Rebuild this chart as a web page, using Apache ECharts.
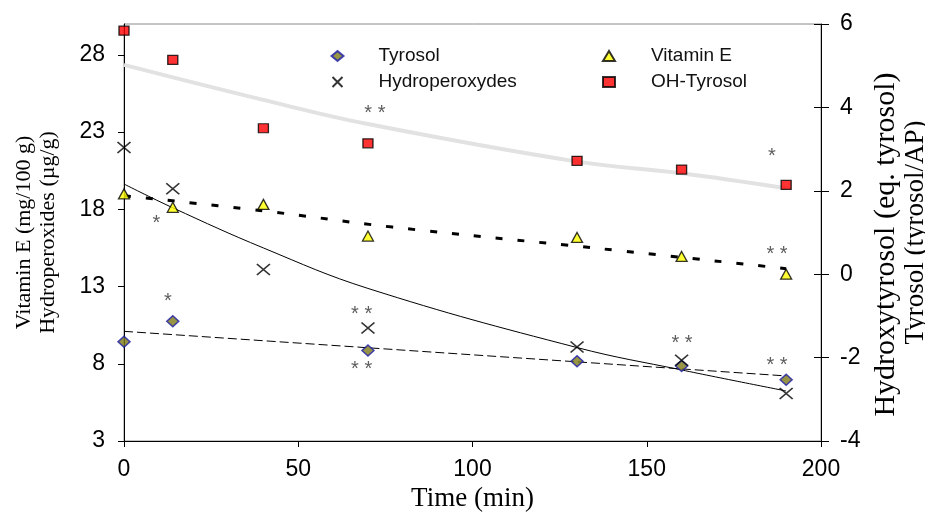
<!DOCTYPE html>
<html>
<head>
<meta charset="utf-8">
<script src="https://cdn.jsdelivr.net/npm/echarts@6/dist/echarts.min.js"></script>
<style>
  html, body { margin: 0; padding: 0; background: #fff; }
  #chart { width: 925px; height: 512px; }
</style>
</head>
<body>
<div id="chart"></div>
<script>
// sampling times (min)
var times = [0, 14, 40, 70, 130, 160, 190];
var tyrosolTimes = [0, 14, 70, 130, 160, 190];

// measured points
var tyrosol = [-1.62, -1.13, -1.83, -2.09, -2.20, -2.53];      // right axis
var vitaminE = [19.0, 18.13, 18.32, 16.27, 16.18, 14.95, 13.8];  // left axis
var hydroperox = [22.0, 19.33, 14.11, 10.32, 9.09, 8.23, 6.07];  // left axis
var ohTyrosol = [5.84, 5.14, 3.50, 3.14, 2.72, 2.51, 2.14];      // right axis

// trend lines
var ohFitT = [0, 40, 70, 130, 160, 190];
var ohFit = [5.02, 4.18, 3.60, 2.70, 2.42, 2.06];
var hpFitT = [0, 14, 40, 70, 130, 160, 190];
var hpFit = [19.64, 18.1, 15.5, 12.88, 9.05, 7.6, 6.24];
var veFitT = [0, 40, 77, 136, 190];
var veFit = [18.88, 17.9, 16.85, 15.47, 14.16];
var tyFitT = [0, 190];
var tyFit = [-1.37, -2.44];

// significance marks (left axis units)
var starT = [72, 185.9, 9.3, 12.6, 68.2, 68.2, 187.4, 160.1, 187.4];
var starV = [24.43, 21.63, 17.30, 12.23, 11.36, 7.80, 15.25, 9.53, 8.06];
var starTxt = ['* *', '*', '*', '*', '* *', '* *', '* *', '* *', '* *'];

var leftTicks = [3, 8, 13, 18, 23, 28];

function zip(xs, ys) {
  var out = [];
  for (var i = 0; i < xs.length; i++) {
    out.push([xs[i], ys[i]]);
  }
  return out;
}

var starData = [];
for (var i = 0; i < starT.length; i++) {
  starData.push({ value: [starT[i], starV[i]], name: starTxt[i] });
}

var sans = '"Liberation Sans", Arial, sans-serif';
var serif = '"Liberation Serif", "Times New Roman", serif';
var crossIcon = 'path://M0,0L10,10M10,0L0,10';

var myChart = echarts.init(document.getElementById('chart'), null, { renderer: 'canvas' });

var option = {
  animation: false,
  backgroundColor: '#fff',
  grid: {
    left: 124, right: 104, top: 24, bottom: 71,
    outerBoundsMode: 'none',
    show: true, borderColor: '#8a8a8a', borderWidth: 1
  },
  legend: [
    {
      data: ['Tyrosol', 'Hydroperoxydes'],
      orient: 'vertical',
      left: 330, top: 43, padding: 0,
      itemWidth: 12, itemHeight: 10, itemGap: 0,
      selectedMode: false,
      textStyle: { fontFamily: sans, fontSize: 19, color: '#111', lineHeight: 26, padding: [0, 0, 0, 30] }
    },
    {
      data: ['Vitamin E', 'OH-Tyrosol'],
      orient: 'vertical',
      left: 602, top: 43, padding: 0,
      itemWidth: 12, itemHeight: 10, itemGap: 0,
      selectedMode: false,
      textStyle: { fontFamily: sans, fontSize: 19, color: '#111', lineHeight: 26, padding: [0, 0, 0, 31] }
    }
  ],
  xAxis: {
    type: 'value',
    min: 0, max: 200, interval: 50,
    name: 'Time (min)',
    nameLocation: 'middle',
    nameGap: 42,
    nameTextStyle: { fontFamily: serif, fontSize: 27, color: '#000' },
    axisLine: { onZero: false, lineStyle: { color: '#000', width: 1 } },
    axisTick: { length: 6, lineStyle: { color: '#000' } },
    axisLabel: { fontFamily: sans, fontSize: 23, color: '#000', margin: 17 },
    splitLine: { show: false }
  },
  yAxis: [
    {
      type: 'value',
      position: 'left',
      min: 3, max: 30, interval: 5,
      name: 'Vitamin E (mg/100 g)\nHydroperoxides (\u00b5g/g)',
      nameLocation: 'middle',
      nameRotate: 90,
      nameGap: 64,
      nameTextStyle: { fontFamily: serif, fontSize: 22, color: '#000', lineHeight: 24 },
      axisLine: { show: true, onZero: false, lineStyle: { color: '#000', width: 1 } },
      axisTick: { show: true, length: 6, customValues: leftTicks, lineStyle: { color: '#000' } },
      axisLabel: { fontFamily: sans, fontSize: 23, color: '#000', margin: 19, customValues: leftTicks },
      splitLine: { show: false }
    },
    {
      type: 'value',
      position: 'right',
      min: -4, max: 6, interval: 2,
      name: '{a|Hydroxytyrosol (eq. tyrosol)}\n{b|Tyrosol (tyrosol/AP)}',
      nameLocation: 'middle',
      nameRotate: 90,
      nameGap: 47,
      nameTextStyle: {
        fontFamily: serif, color: '#000',
        rich: {
          a: { fontFamily: serif, fontSize: 30, lineHeight: 30, color: '#000', padding: [0, 24, 0, 0] },
          b: { fontFamily: serif, fontSize: 27, lineHeight: 29, color: '#000' }
        }
      },
      axisLine: { show: true, onZero: false, lineStyle: { color: '#000', width: 1 } },
      axisTick: { show: true, length: 8, lineStyle: { color: '#000' } },
      axisLabel: { fontFamily: sans, fontSize: 23, color: '#000', margin: 19 },
      splitLine: { show: false }
    },
    {
      // inner half of the crossing ticks on the right axis
      type: 'value',
      position: 'right',
      min: -4, max: 6, interval: 2,
      axisLine: { show: false, onZero: false },
      axisTick: { show: true, inside: true, length: 7, lineStyle: { color: '#000' } },
      axisLabel: { show: false },
      splitLine: { show: false }
    }
  ],
  series: [
    {
      name: 'OH-Tyrosol fit', type: 'line', yAxisIndex: 1, z: 1,
      data: zip(ohFitT, ohFit), smooth: 0.4, symbol: 'none', silent: true,
      lineStyle: { color: '#e2e2e2', width: 4 }
    },
    {
      name: 'Hydroperoxydes fit', type: 'line', yAxisIndex: 0, z: 1,
      data: zip(hpFitT, hpFit), smooth: 0.4, symbol: 'none', silent: true,
      lineStyle: { color: '#000', width: 1 }
    },
    {
      name: 'Vitamin E fit', type: 'line', yAxisIndex: 0, z: 1,
      data: zip(veFitT, veFit), smooth: 0.4, symbol: 'none', silent: true,
      lineStyle: { color: '#000', width: 3, type: [7, 15] }
    },
    {
      name: 'Tyrosol fit', type: 'line', yAxisIndex: 1, z: 1,
      data: zip(tyFitT, tyFit), symbol: 'none', silent: true,
      lineStyle: { color: '#000', width: 1, type: [9, 4] }
    },
    {
      name: 'Tyrosol', type: 'scatter', yAxisIndex: 1,
      data: zip(tyrosolTimes, tyrosol),
      symbol: 'diamond', symbolSize: [12, 11],
      itemStyle: { color: '#7d7a16', borderColor: '#1c1ca8', borderWidth: 1.5 }
    },
    {
      name: 'Vitamin E', type: 'scatter', yAxisIndex: 0,
      data: zip(times, vitaminE),
      symbol: 'triangle', symbolSize: [11, 10],
      itemStyle: { color: '#ffff00', borderColor: '#000', borderWidth: 1.3 }
    },
    {
      name: 'Hydroperoxydes', type: 'scatter', yAxisIndex: 0,
      data: zip(times, hydroperox),
      symbol: crossIcon, symbolSize: [13, 11], symbolKeepAspect: false,
      itemStyle: { color: 'none', borderColor: '#000', borderWidth: 1.6 }
    },
    {
      name: 'OH-Tyrosol', type: 'scatter', yAxisIndex: 1,
      data: zip(times, ohTyrosol),
      symbol: 'rect', symbolSize: [10, 9],
      itemStyle: { color: '#ff0000', borderColor: '#000', borderWidth: 1.3 }
    },
    {
      name: 'stars', type: 'scatter', yAxisIndex: 0, silent: true,
      data: starData,
      symbolSize: 1,
      itemStyle: { color: 'rgba(0,0,0,0)' },
      label: {
        show: true, position: 'inside', offset: [0, 3],
        formatter: function (p) { return p.name; },
        fontFamily: sans, fontSize: 20, color: '#333'
      }
    }
  ]
};

myChart.setOption(option);
</script>
</body>
</html>
